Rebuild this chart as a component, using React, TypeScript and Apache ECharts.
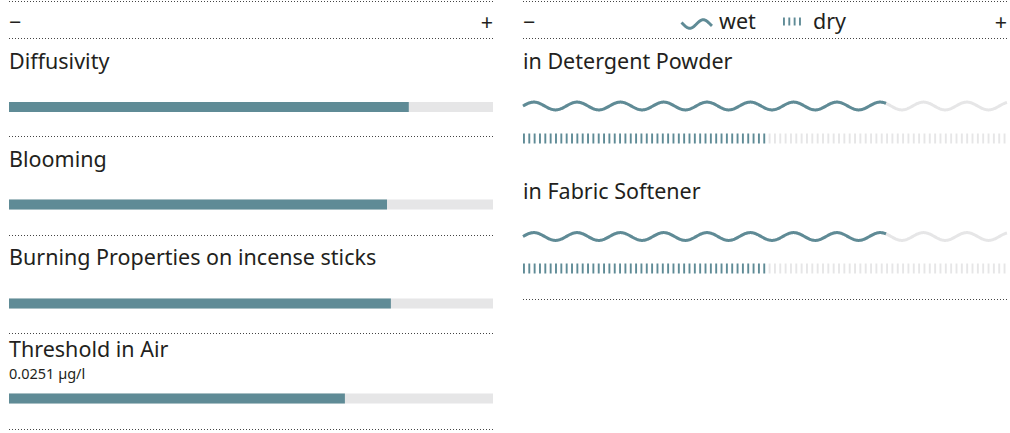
import React, { useEffect, useRef } from "react";
import * as echarts from "echarts";

// ---- data ----
const leftLabels = ["Diffusivity", "Blooming", "Burning Properties on incense sticks", "Threshold in Air"];
const leftSubLabels = ["", "", "", "0.0251 µg/l"];
const leftValues = [0.826, 0.781, 0.789, 0.694];

const rightLabels = ["in Detergent Powder", "in Fabric Softener"];
const wetValues = [0.75, 0.75];
const dryValues = [0.5, 0.5];

const legendLabels = ["wet", "dry"];
const scaleEnds = ["−", "+"];

// ---- layout / style ----
const BLUE = "#5f8b96";
const GRAY = "#e6e6e7";
const TEXT = "#231f20";
const DOT = "#444";
const FONT = "'Noto Sans', sans-serif";
const LABEL_SIZE = 21.5;
const SUB_SIZE = 14.5;

const LX = 9;
const RX = 523;
const W = 484;

const leftBarTops = [102, 199.5, 298.5, 393.5];
const leftLabelY = [60, 158, 256, 348];
const leftSubY = 373;
const leftDividers = [1.5, 38.5, 136.5, 235.5, 333.5, 429.5];

const rightLabelY = [60, 190];
const wetCenters = [106, 236.5];
const dryTops = [133.5, 263.5];
const rightDividers = [1.5, 38.5, 299.5];

const WAVE_P = 43.3;
const WAVE_A = 3.9;
const TICK_STEP = 5.34;
const TICK_W = 1.9;

function wavePoints(x0: number, xa: number, xb: number, cy: number) {
  const pts: number[][] = [];
  for (let x = xa; x < xb; x += 0.5) {
    pts.push([x, cy - WAVE_A * Math.sin((2 * Math.PI * (x - x0)) / WAVE_P)]);
  }
  pts.push([xb, cy - WAVE_A * Math.sin((2 * Math.PI * (xb - x0)) / WAVE_P)]);
  return pts;
}

export default function App() {
  const ref = useRef<HTMLDivElement>(null);
  useEffect(() => {
    if (!ref.current) return;
    const chart = echarts.init(ref.current, undefined, { renderer: "svg" });

    const grid: any[] = [];
    const xAxis: any[] = [];
    const yAxis: any[] = [];
    const series: any[] = [];
    const graphic: any[] = [];

    // left bars
    leftValues.forEach((v, i) => {
      grid.push({ left: LX, width: W, top: leftBarTops[i], height: 10 });
      xAxis.push({ type: "value", min: 0, max: 1, show: false, gridIndex: grid.length - 1 });
      yAxis.push({ type: "category", data: [leftLabels[i]], show: false, gridIndex: grid.length - 1 });
      series.push({
        type: "bar",
        xAxisIndex: grid.length - 1,
        yAxisIndex: grid.length - 1,
        data: [v],
        barWidth: 10,
        showBackground: true,
        backgroundStyle: { color: GRAY },
        itemStyle: { color: BLUE },
        silent: true,
      });
    });

    // wet waves
    wetValues.forEach((v, i) => {
      grid.push({ left: RX, width: W, top: wetCenters[i] - 5, height: 10 });
      const gi = grid.length - 1;
      xAxis.push({ type: "value", min: 0, max: 1, show: false, gridIndex: gi });
      yAxis.push({ type: "value", min: -1, max: 1, show: false, gridIndex: gi });
      series.push({
        type: "custom",
        name: legendLabels[0],
        xAxisIndex: gi,
        yAxisIndex: gi,
        data: [[v, 0]],
        encode: { x: 0, y: 1 },
        silent: true,
        renderItem: (params: any, api: any) => {
          const val = api.value(0);
          const p0 = api.coord([0, 0]);
          const p1 = api.coord([1, 0]);
          const pv = api.coord([val, 0]);
          return {
            type: "group",
            children: [
              {
                type: "polyline",
                shape: { points: wavePoints(p0[0], p0[0], p1[0], p0[1]) },
                style: { stroke: GRAY, lineWidth: 3, fill: null },
              },
              {
                type: "polyline",
                shape: { points: wavePoints(p0[0], p0[0], pv[0], p0[1]) },
                style: { stroke: BLUE, lineWidth: 3, fill: null },
              },
            ],
          };
        },
      });
    });

    // dry ticks
    dryValues.forEach((v, i) => {
      grid.push({ left: RX, width: W, top: dryTops[i], height: 10 });
      const gi = grid.length - 1;
      xAxis.push({ type: "value", min: 0, max: 1, show: false, gridIndex: gi });
      yAxis.push({ type: "value", min: -1, max: 1, show: false, gridIndex: gi });
      series.push({
        type: "custom",
        name: legendLabels[1],
        xAxisIndex: gi,
        yAxisIndex: gi,
        data: [[v, 0]],
        encode: { x: 0, y: 1 },
        silent: true,
        renderItem: (params: any, api: any) => {
          const val = api.value(0);
          const pTop = api.coord([0, 1]);
          const pBot = api.coord([0, -1]);
          const p1 = api.coord([1, 0]);
          const pv = api.coord([val, 0]);
          const children: any[] = [];
          for (let x = pTop[0]; x + TICK_W <= p1[0] + 0.01; x += TICK_STEP) {
            children.push({
              type: "rect",
              shape: { x, y: pTop[1], width: TICK_W, height: pBot[1] - pTop[1] },
              style: { fill: x < pv[0] ? BLUE : GRAY },
            });
          }
          return { type: "group", children };
        },
      });
    });

    // dividers
    const dotted = (x1: number, x2: number, y: number) => ({
      type: "line",
      silent: true,
      shape: { x1, y1: y, x2, y2: y },
      style: { stroke: DOT, lineWidth: 1, lineDash: [1, 2] },
    });
    leftDividers.forEach((y) => graphic.push(dotted(LX, LX + W, y)));
    rightDividers.forEach((y) => graphic.push(dotted(RX, RX + W, y)));

    const txt = (text: string, x: number, y: number, size: number, align = "left") => ({
      type: "text",
      silent: true,
      x,
      y,
      style: {
        text,
        fill: TEXT,
        font: `${size}px ${FONT}`,
        lineHeight: size,
        align,
        verticalAlign: "middle",
      },
    });

    // scale ends
    graphic.push(txt(scaleEnds[0], LX, 21, LABEL_SIZE));
    graphic.push(txt(scaleEnds[1], LX + W, 21, LABEL_SIZE, "right"));
    graphic.push(txt(scaleEnds[0], RX, 21, LABEL_SIZE));
    graphic.push(txt(scaleEnds[1], RX + W, 21, LABEL_SIZE, "right"));

    // labels
    leftLabels.forEach((l, i) => {
      graphic.push(txt(l, LX, leftLabelY[i], LABEL_SIZE));
      if (leftSubLabels[i]) graphic.push(txt(leftSubLabels[i], LX, leftSubY, SUB_SIZE));
    });
    rightLabels.forEach((l, i) => graphic.push(txt(l, RX, rightLabelY[i], LABEL_SIZE)));

    // legend
    const iconPts: number[][] = [];
    for (let x = 681.5; x <= 712; x += 0.5) {
      iconPts.push([x, 24 - 4.3 * Math.sin((2 * Math.PI * (x - 696.5)) / 27)]);
    }
    graphic.push({
      type: "polyline",
      silent: true,
      shape: { points: iconPts },
      style: { stroke: BLUE, lineWidth: 3, fill: null },
    });
    graphic.push(txt(legendLabels[0], 719, 20, LABEL_SIZE));
    for (let k = 0; k < 4; k++) {
      graphic.push({
        type: "rect",
        silent: true,
        shape: { x: 783 + k * TICK_STEP, y: 17.5, width: TICK_W, height: 8 },
        style: { fill: BLUE },
      });
    }
    graphic.push(txt(legendLabels[1], 813, 20, LABEL_SIZE));

    chart.setOption({
      animation: false,
      grid,
      xAxis,
      yAxis,
      series,
      graphic,
    });
    return () => chart.dispose();
  }, []);

  return (
    <div
      ref={ref}
      style={{ position: "absolute", left: 0, top: 0, width: 1010, height: 433, background: "#fff" }}
    />
  );
}
